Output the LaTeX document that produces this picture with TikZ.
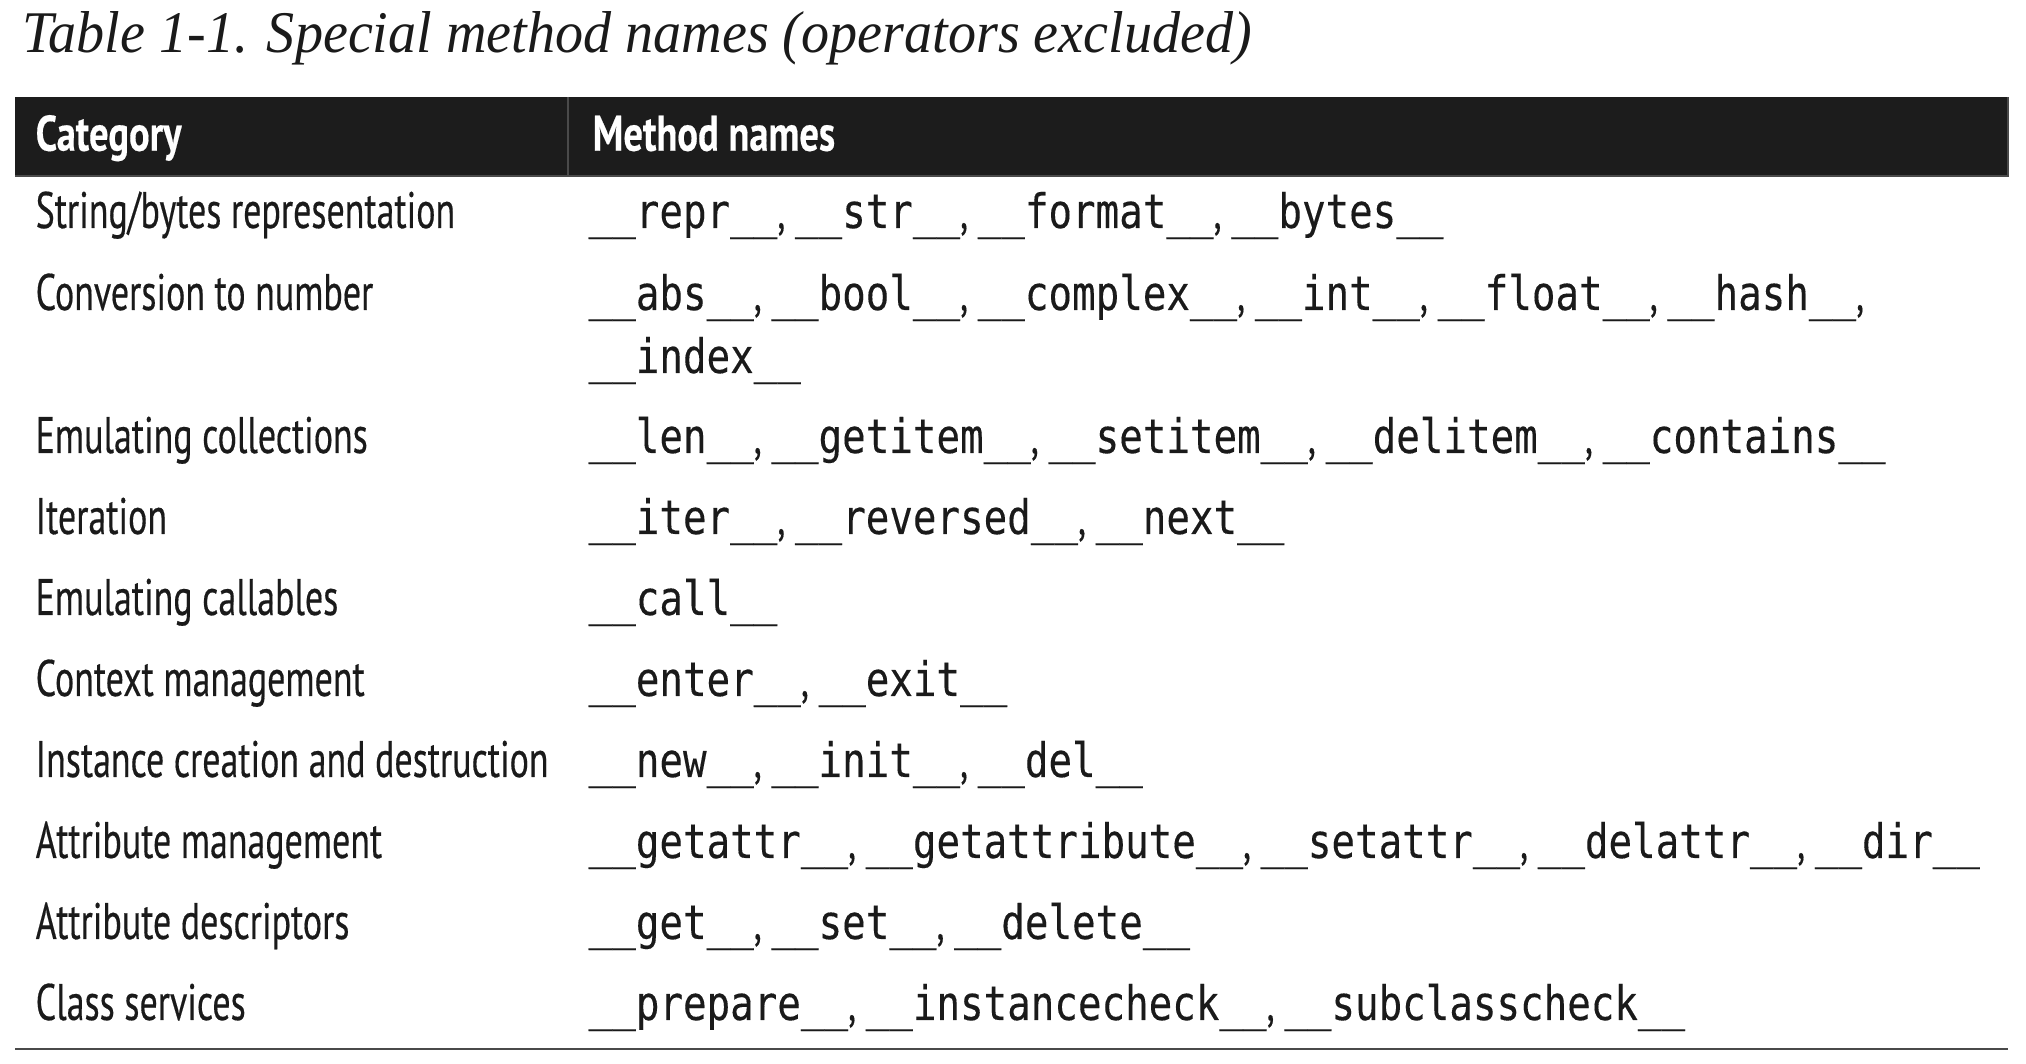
\documentclass[tikz,border=0pt]{standalone}
\usepackage{fontspec}
\usepackage{xcolor}
\setmainfont[FakeStretch=0.95]{Liberation Serif}
\newfontfamily\catfont[FakeStretch=0.70, FakeBold=0.3, BoldFeatures={FakeStretch=0.77}]{PT Sans}
\newfontfamily\codefont[FakeStretch=0.825, FakeBold=0.2]{DejaVu Sans Mono}
\newcommand{\dm}[1]{{\codefont\fontsize{13.5}{17.6}\selectfont\_\_#1\_\_}}
\definecolor{barblack}{HTML}{1C1C1C}
\definecolor{inkblack}{HTML}{1A1A1A}
\definecolor{rulegray}{HTML}{4A4A4A}
\tikzset{
	cat/.style={anchor=base west, inner sep=0, text=inkblack, font=\catfont\fontsize{14.6}{17.6}\selectfont},
	head/.style={anchor=base west, inner sep=0, text=white, font=\catfont\bfseries\fontsize{14.2}{17}\selectfont},
	meth/.style={anchor=base west, inner sep=0, text=inkblack, font=\catfont\fontsize{14.6}{17.6}\selectfont}
}

\begin{document}
\begin{tikzpicture}[x=0.01cm, y=-0.01cm]
	\useasboundingbox (0, 0) rectangle (2026, 1064);
	\node [anchor=base west, inner sep=0, text=inkblack, font=\itshape\fontsize{16.8}{20}\selectfont] (title) at (22, 53) {Table 1-1. Special method names (operators excluded)};
	\fill [barblack] (15, 97) rectangle (2008, 176);
	\draw [rulegray, line width=0.4pt] (568, 97) -- (568, 176);
	\draw [rulegray, line width=0.5pt] (15, 176) -- (2008, 176) -- (2008, 97);
	\node [head] (h0) at (35, 150.7) {Category};
	\node [head] (h1) at (592, 150.7) {Method names};
	\node [cat] (c0) at (35, 228) {String/bytes representation};
	\node [cat] (c1) at (35, 310) {Conversion to number};
	\node [cat] (c2) at (35, 453) {Emulating collections};
	\node [cat] (c3) at (35, 534) {Iteration};
	\node [cat] (c4) at (35, 615) {Emulating callables};
	\node [cat] (c5) at (35, 696) {Context management};
	\node [cat] (c6) at (35, 777) {Instance creation and destruction};
	\node [cat] (c7) at (35, 858) {Attribute management};
	\node [cat] (c8) at (35, 939) {Attribute descriptors};
	\node [cat] (c9) at (35, 1020) {Class services};
	\node [meth] (m0) at (588, 228) {\dm{repr}, \dm{str}, \dm{format}, \dm{bytes}};
	\node [meth] (m1) at (588, 310) {\dm{abs}, \dm{bool}, \dm{complex}, \dm{int}, \dm{float}, \dm{hash},};
	\node [meth] (m1b) at (588, 373) {\dm{index}};
	\node [meth] (m2) at (588, 453) {\dm{len}, \dm{getitem}, \dm{setitem}, \dm{delitem}, \dm{contains}};
	\node [meth] (m3) at (588, 534) {\dm{iter}, \dm{reversed}, \dm{next}};
	\node [meth] (m4) at (588, 615) {\dm{call}};
	\node [meth] (m5) at (588, 696) {\dm{enter}, \dm{exit}};
	\node [meth] (m6) at (588, 777) {\dm{new}, \dm{init}, \dm{del}};
	\node [meth] (m7) at (588, 858) {\dm{getattr}, \dm{getattribute}, \dm{setattr}, \dm{delattr}, \dm{dir}};
	\node [meth] (m8) at (588, 939) {\dm{get}, \dm{set}, \dm{delete}};
	\node [meth] (m9) at (588, 1020) {\dm{prepare}, \dm{instancecheck}, \dm{subclasscheck}};
	\draw [rulegray, line width=0.6pt] (15, 1049) -- (2008, 1049);
\end{tikzpicture}
\end{document}
